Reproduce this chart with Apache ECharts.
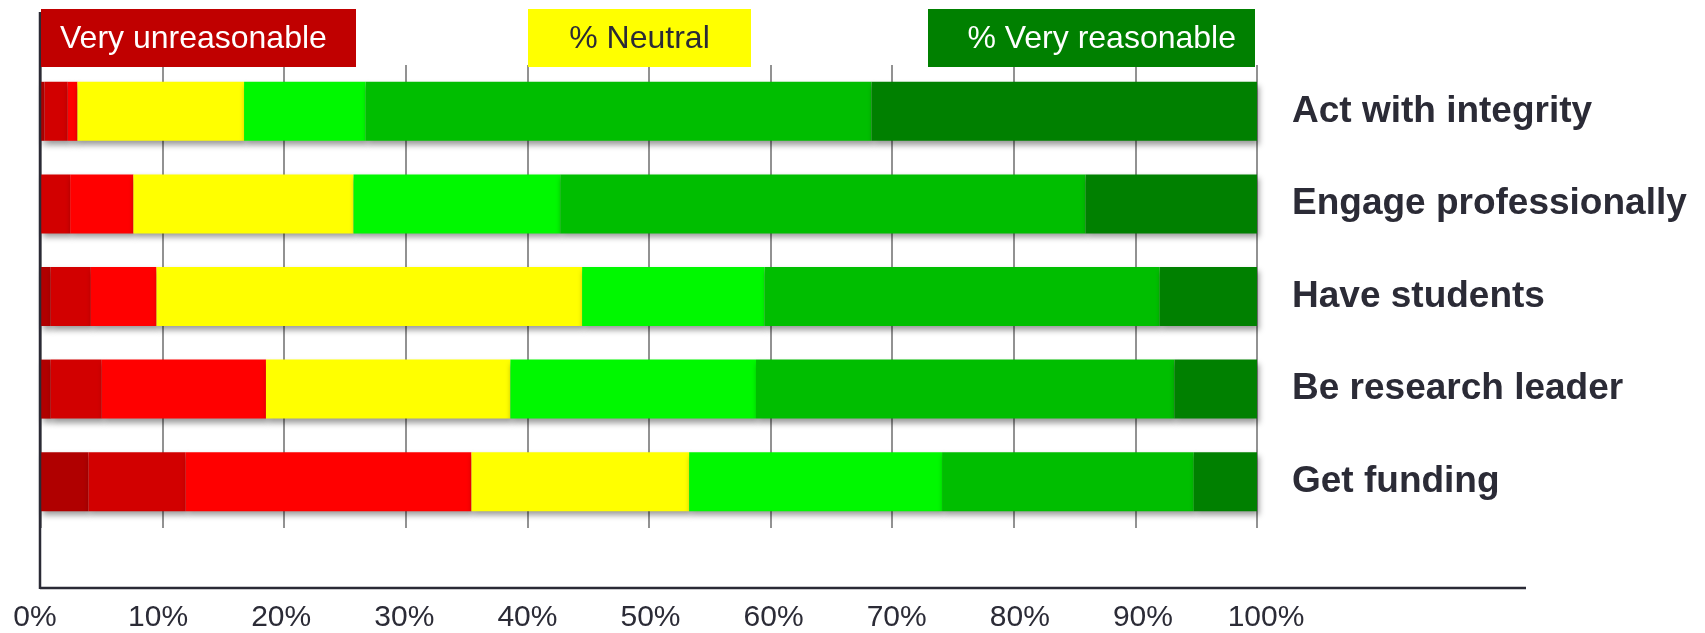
<!DOCTYPE html>
<html>
<head>
<meta charset="utf-8">
<script src="https://cdn.jsdelivr.net/npm/echarts@6/dist/echarts.min.js"></script>
<style>
html,body{margin:0;padding:0;background:#fff;}
#chart{width:1705px;height:633px;}
</style>
</head>
<body>
<div id="chart"></div>
<script>
// ---- data ----
const categories = ['Act with integrity', 'Engage professionally', 'Have students', 'Be research leader', 'Get funding'];
const veryUnreasonable     = [0.3, 0.0, 0.8, 0.8, 3.9];
const unreasonable         = [1.9, 2.4, 3.3, 4.2, 8.0];
const somewhatUnreasonable = [0.8, 5.2, 5.4, 13.5, 23.5];
const neutral              = [13.7, 18.1, 35.0, 20.1, 17.9];
const somewhatReasonable   = [10.0, 17.0, 15.0, 20.2, 20.8];
const reasonable           = [41.6, 43.2, 32.5, 34.4, 20.7];
const veryReasonable       = [31.7, 14.1, 8.0, 6.8, 5.2];
const tickValues = [0, 10, 20, 30, 40, 50, 60, 70, 80, 90, 100];
const boxLabels = ['Very unreasonable', '% Neutral', '% Very reasonable'];

const FONT = "'Liberation Sans', Arial, sans-serif";
const TEXT = '#2b2b36';

const seriesDefs = [
  [veryUnreasonable, '#b00000'],
  [unreasonable, '#d20000'],
  [somewhatUnreasonable, '#ff0000'],
  [neutral, '#ffff00'],
  [somewhatReasonable, '#00f800'],
  [reasonable, '#00be00'],
  [veryReasonable, '#008000']
];

const chart = echarts.init(document.getElementById('chart'), null, {renderer: 'canvas'});
chart.setOption({
  animation: false,
  backgroundColor: '#ffffff',
  grid: [
    {left: 41, right: 448, top: 65, bottom: 105},
    {left: 35, width: 1231, top: 20, bottom: 44}
  ],
  xAxis: [
    {
      type: 'value', gridIndex: 0, min: 0, max: 100, interval: 10,
      axisLine: {show: false}, axisTick: {show: false}, axisLabel: {show: false},
      splitLine: {show: true, lineStyle: {color: '#929292', width: 2}}
    },
    {
      type: 'value', gridIndex: 1, min: tickValues[0], max: tickValues[tickValues.length - 1], interval: 10,
      axisLine: {show: false}, axisTick: {show: false}, splitLine: {show: false},
      axisLabel: {show: true, margin: 16, formatter: '{value}%', fontSize: 30, fontFamily: FONT, color: TEXT}
    }
  ],
  yAxis: [
    {
      type: 'category', gridIndex: 0, data: categories, inverse: true, position: 'right',
      axisLine: {show: false}, axisTick: {show: false}, splitLine: {show: false},
      axisLabel: {margin: 35, align: 'left', fontSize: 37, fontWeight: 'bold', fontFamily: FONT, color: TEXT}
    },
    {type: 'value', gridIndex: 1, show: false}
  ],
  series: seriesDefs.map(([vals, col]) => ({
    type: 'bar', stack: 'total', xAxisIndex: 0, yAxisIndex: 0,
    data: vals, barWidth: 59,
    itemStyle: {
      color: col,
      shadowColor: 'rgba(0,0,0,0.4)', shadowBlur: 6, shadowOffsetX: 2, shadowOffsetY: 4
    }
  })),
  graphic: [
    // frame lines
    {type: 'line', shape: {x1: 40, y1: 12, x2: 40, y2: 589}, style: {stroke: '#2a2a35', lineWidth: 2.5}, z: 100},
    {type: 'line', shape: {x1: 40, y1: 588, x2: 1526, y2: 588}, style: {stroke: '#2a2a35', lineWidth: 2.5}, z: 100},
    // label boxes
    {type: 'rect', shape: {x: 41, y: 9, width: 315, height: 58}, style: {fill: '#c00000'}, z: 101},
    {type: 'text', x: 60, y: 39, style: {text: boxLabels[0], fill: '#ffffff', font: "32px " + FONT, textVerticalAlign: 'middle', textAlign: 'left'}, z: 102},
    {type: 'rect', shape: {x: 528, y: 9, width: 223, height: 58}, style: {fill: '#ffff00'}, z: 101},
    {type: 'text', x: 639.5, y: 39, style: {text: boxLabels[1], fill: TEXT, font: "32px " + FONT, textVerticalAlign: 'middle', textAlign: 'center'}, z: 102},
    {type: 'rect', shape: {x: 928, y: 9, width: 327, height: 58}, style: {fill: '#008000'}, z: 101},
    {type: 'text', x: 1236, y: 39, style: {text: boxLabels[2], fill: '#ffffff', font: "32px " + FONT, textVerticalAlign: 'middle', textAlign: 'right'}, z: 102}
  ]
});
</script>
</body>
</html>
